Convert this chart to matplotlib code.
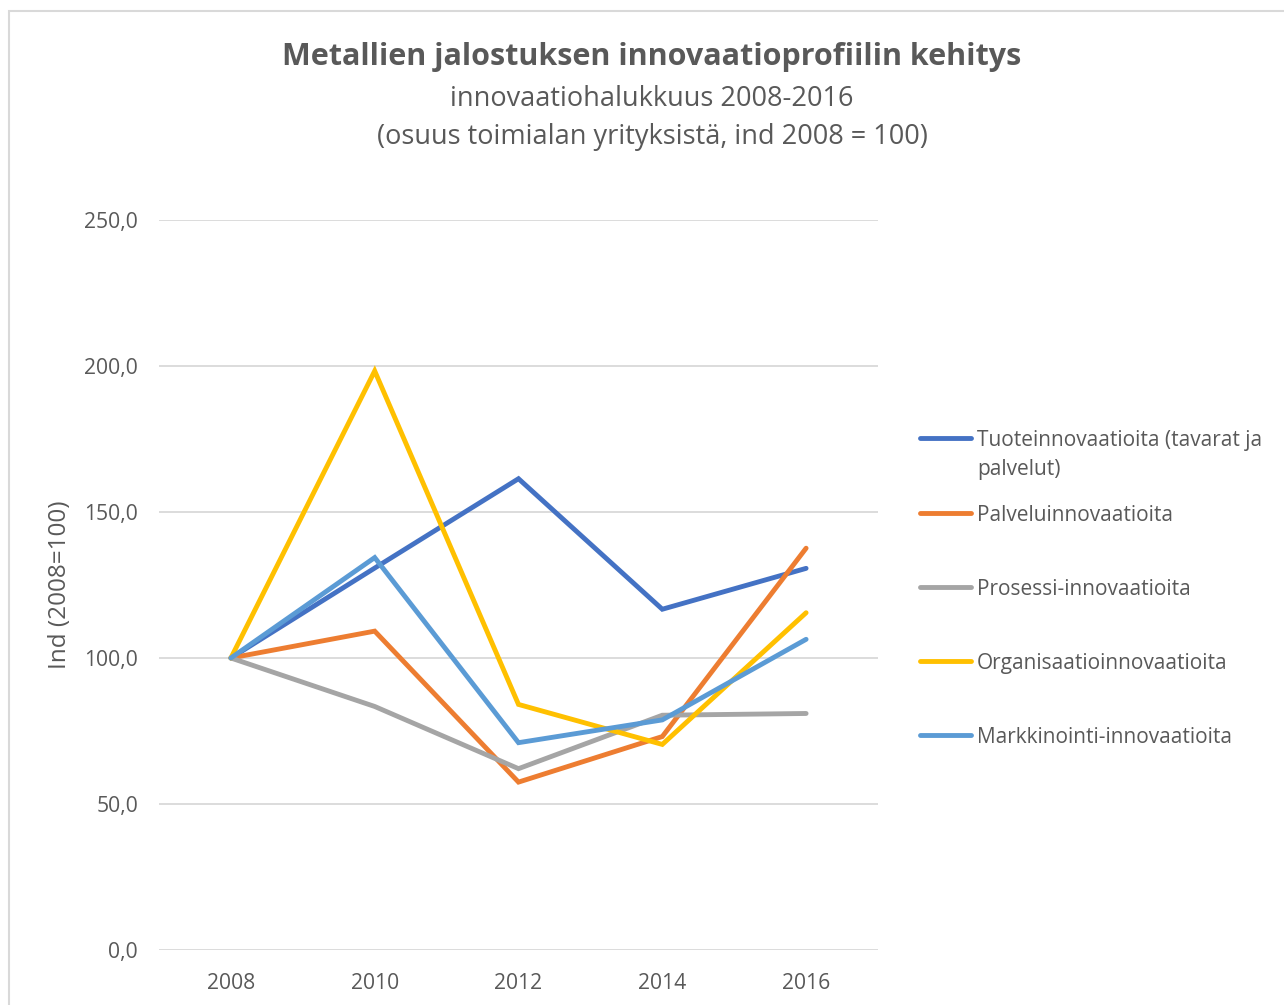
import matplotlib
matplotlib.use("Agg")
import matplotlib.pyplot as plt
from matplotlib.lines import Line2D
from matplotlib.patches import Rectangle
from matplotlib.ticker import FuncFormatter

plt.rcParams['font.family'] = ['Open Sans', 'DejaVu Sans']

years = ["2008", "2010", "2012", "2014", "2016"]
series_names = [
    "Tuoteinnovaatioita (tavarat ja\npalvelut)",
    "Palveluinnovaatioita",
    "Prosessi-innovaatioita",
    "Organisaatioinnovaatioita",
    "Markkinointi-innovaatioita",
]
tuote = [100.0, 130.8, 161.4, 116.7, 130.7]
palvelu = [100.0, 109.2, 57.5, 73.1, 137.6]
prosessi = [100.0, 83.4, 62.1, 80.4, 81.0]
organisaatio = [100.0, 198.3, 84.1, 70.4, 115.5]
markkinointi = [100.0, 134.4, 71.0, 78.8, 106.4]
colors = ["#4472C4", "#ED7D31", "#A5A5A5", "#FFC000", "#5B9BD5"]
yticks = [0, 50, 100, 150, 200, 250]

title = "Metallien jalostuksen innovaatioprofiilin kehitys"
subtitle_lines = ["innovaatiohalukkuus 2008-2016",
                  "(osuus toimialan yrityksistä, ind 2008 = 100)"]
ylabel = "Ind (2008=100)"

W, H = 1284, 1005
fig = plt.figure(figsize=(W / 100, H / 100), dpi=100)
text_color = "#595959"

# chart border
fig.patches.append(Rectangle((9 / W, -0.01), 1.2, (H - 11) / H + 0.01, transform=fig.transFigure,
                             fill=False, edgecolor="#D9D9D9", linewidth=1.5))

ax = fig.add_axes([159 / W, 1 - 950 / H, (878 - 159) / W, (950 - 220) / H])
all_series = [tuote, palvelu, prosessi, organisaatio, markkinointi]
x = list(range(len(years)))
for vals, c in zip(all_series, colors):
    ax.plot(x, vals, color=c, linewidth=3.5, solid_capstyle="round", solid_joinstyle="miter", zorder=3)

ax.set_xlim(-0.5, len(years) - 0.5)
ax.set_ylim(0, 250)
ax.set_yticks(yticks)
ax.yaxis.set_major_formatter(FuncFormatter(lambda v, p: f"{v:.1f}".replace(".", ",")))
ax.set_xticks(x)
ax.set_xticklabels(years)
ax.grid(axis="y", color="#D9D9D9", linewidth=1.3, zorder=0)
ax.set_axisbelow(True)
for s in ax.spines.values():
    s.set_visible(False)
ax.tick_params(axis="both", length=0, labelsize=15.2, colors=text_color)
ax.tick_params(axis="y", pad=15)
ax.tick_params(axis="x", pad=16.5)
ax.set_ylabel(ylabel, fontsize=17.5, color=text_color, va="center")
ax.yaxis.set_label_coords((60 - 159) / (878 - 159), 0.5)

fig.text(652 / W, 1 - 57 / H, title, ha="center", va="center", fontsize=22,
         fontweight="bold", color=text_color)
for line, yy in zip(subtitle_lines, [99, 137]):
    fig.text(652 / W, 1 - yy / H, line, ha="center", va="center", fontsize=19.5,
             color=text_color)

# legend
leg_y = [438, 513, 587, 661, 735]
for name, c, yy in zip(series_names, colors, leg_y):
    fig.lines.append(Line2D([920 / W, 971 / W], [1 - yy / H, 1 - yy / H], transform=fig.transFigure,
                            color=c, linewidth=3.5, solid_capstyle="round"))
    for i, part in enumerate(name.split("\n")):
        fig.text(977 / W, 1 - (yy + 29 * i) / H, part, ha="left", va="center_baseline",
                 fontsize=15, color=text_color)

fig.savefig("out.png", dpi=100)
